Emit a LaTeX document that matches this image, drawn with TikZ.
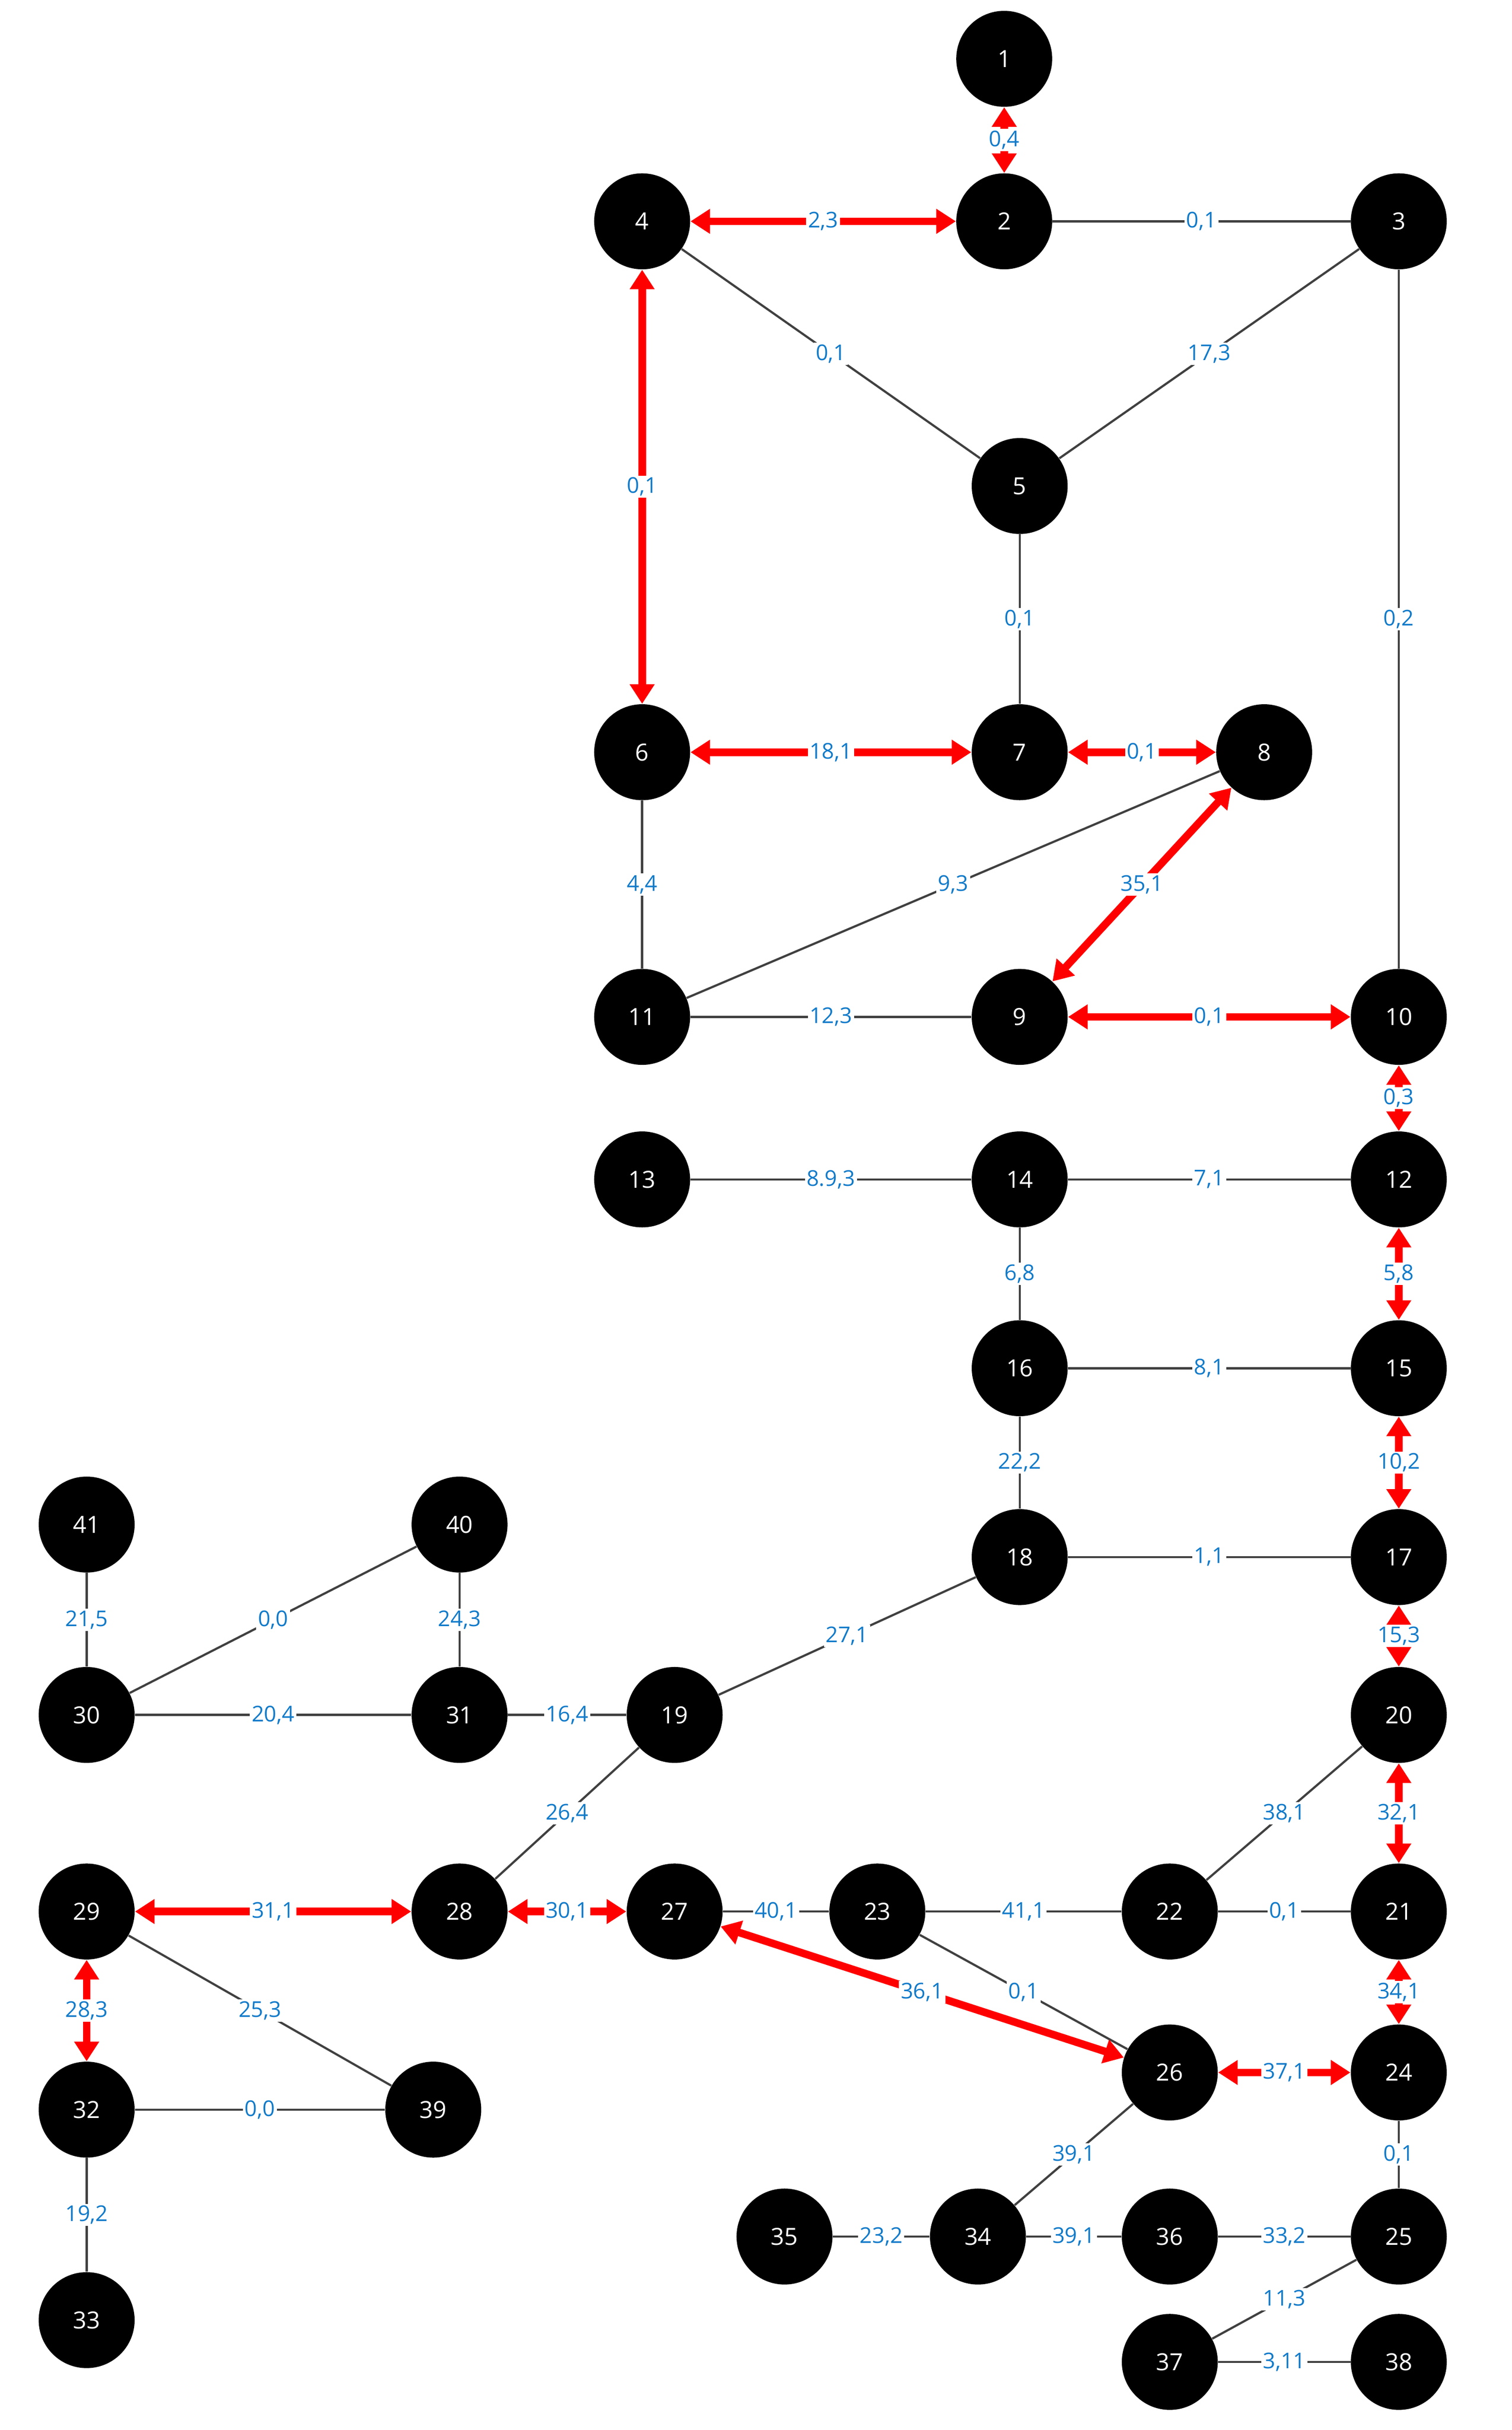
\documentclass[tikz,border=0pt]{standalone}
\usepackage{fontspec}
\setmainfont{Open Sans}
\usetikzlibrary{arrows.meta}
\begin{document}
\begin{tikzpicture}[x=0.03cm,y=-0.03cm,
  v/.style={circle,fill=black,text=white,minimum size=1.86cm,inner sep=0pt,font=\fontsize{13}{13}\selectfont},
  e/.style={draw=black!75,line width=1.2pt},
  r/.style={draw=red,line width=4.2pt,{Triangle[length=0.38cm,width=0.46cm]}-{Triangle[length=0.38cm,width=0.46cm]}},
  w/.style={fill=white,text=cyan!60!blue,inner sep=1pt,font=\fontsize{12}{12}\selectfont}]
\useasboundingbox (0,0) rectangle (977,1570);
\foreach \n/\x/\y in {1/649/38,2/649/143,3/904/143,4/415/143,5/659/314,6/415/486,7/659/486,8/817/486,9/659/657,10/904/657,11/415/657,12/904/762,13/415/762,14/659/762,15/904/884,16/659/884,17/904/1006,18/659/1006,19/436/1108,20/904/1108,21/904/1235,22/756/1235,23/567/1235,24/904/1339,25/904/1445,26/756/1339,27/436/1235,28/297/1235,29/56/1235,30/56/1108,31/297/1108,32/56/1363,33/56/1499,34/632/1445,35/507/1445,36/756/1445,37/756/1526,38/904/1526,39/280/1363,40/297/985,41/56/985}
  \node[v] (n\n) at (\x,\y) {\n};
\foreach \a/\b/\l in {2/3/{0,1},4/5/{0,1},3/5/{17,3},5/7/{0,1},3/10/{0,2},6/11/{4,4},11/8/{9,3},11/9/{12,3},13/14/{8.9,3},14/12/{7,1},14/16/{6,8},16/15/{8,1},16/18/{22,2},18/17/{1,1},18/19/{27,1},19/31/{16,4},31/40/{24,3},30/40/{0,0},30/31/{20,4},41/30/{21,5},19/28/{26,4},27/23/{40,1},23/22/{41,1},22/21/{0,1},22/20/{38,1},23/26/{0,1},29/39/{25,3},32/39/{0,0},32/33/{19,2},26/34/{39,1},35/34/{23,2},34/36/{39,1},36/25/{33,2},24/25/{0,1},25/37/{11,3},37/38/{3,11}}
  \draw[e] (n\a) -- node[w] {\l} (n\b);
\foreach \a/\b/\l in {1/2/{0,4},4/2/{2,3},4/6/{0,1},6/7/{18,1},7/8/{0,1},8/9/{35,1},9/10/{0,1},10/12/{0,3},12/15/{5,8},15/17/{10,2},17/20/{15,3},20/21/{32,1},21/24/{34,1},26/24/{37,1},29/28/{31,1},28/27/{30,1},29/32/{28,3},27/26/{36,1}}
  \draw[r] (n\a) -- node[w] {\l} (n\b);
\end{tikzpicture}
\end{document}
